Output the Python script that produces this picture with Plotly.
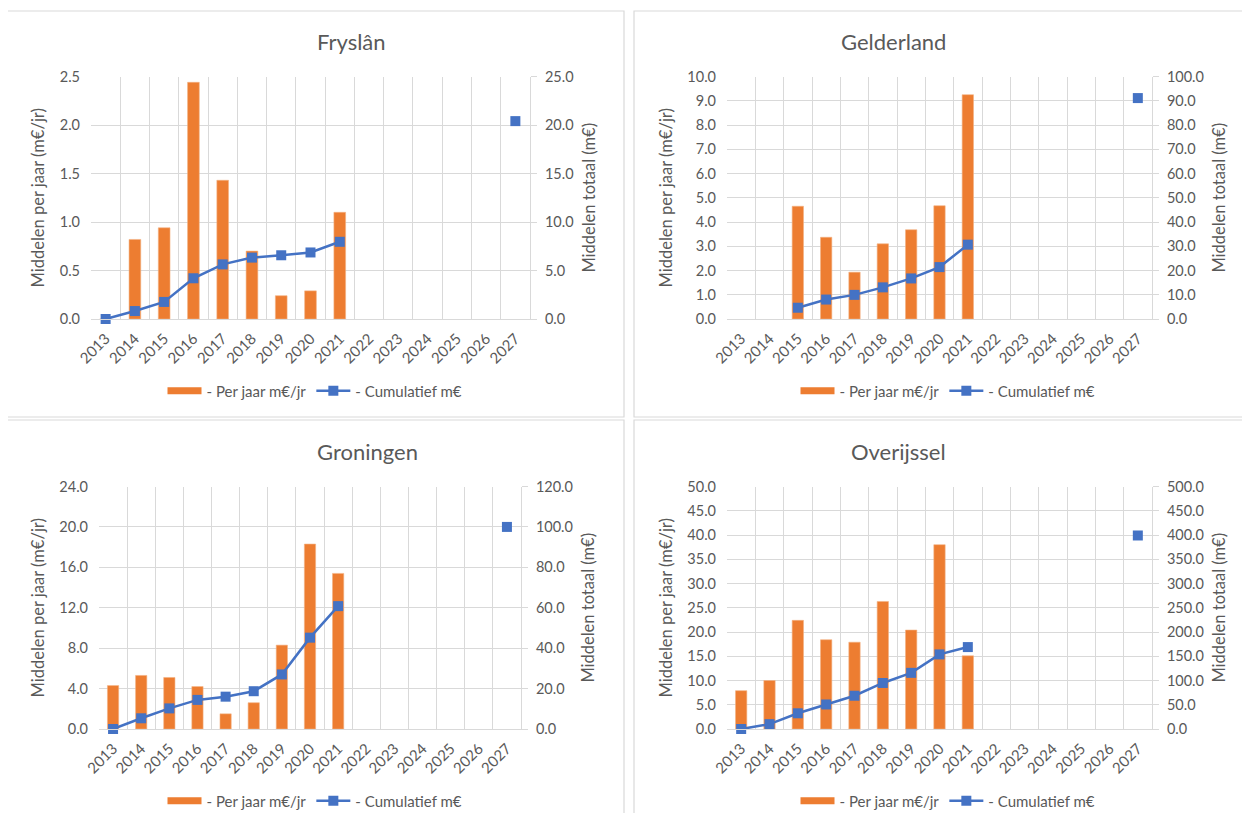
import plotly.graph_objects as go

YEARS = ["2013", "2014", "2015", "2016", "2017", "2018", "2019", "2020",
         "2021", "2022", "2023", "2024", "2025", "2026", "2027"]

fryslan_jaar = [0.0, 0.82, 0.94, 2.44, 1.43, 0.70, 0.24, 0.29, 1.10,
                None, None, None, None, None, None]
fryslan_cum = [0.0, 0.82, 1.76, 4.20, 5.63, 6.33, 6.57, 6.86, 7.96,
               None, None, None, None, None, 20.4]

gelderland_jaar = [None, None, 4.65, 3.37, 1.93, 3.10, 3.68, 4.67, 9.25,
                   None, None, None, None, None, None]
gelderland_cum = [None, None, 4.65, 8.02, 9.95, 13.05, 16.73, 21.40, 30.65,
                  None, None, None, None, None, 91.1]

groningen_jaar = [4.3, 5.3, 5.1, 4.2, 1.5, 2.6, 8.3, 18.3, 15.4,
                  None, None, None, None, None, None]
groningen_cum = [0.0, 5.3, 10.2, 14.4, 16.0, 18.7, 27.0, 45.2, 60.8,
                 None, None, None, None, None, 100.0]

overijssel_jaar = [7.9, 10.0, 22.4, 18.4, 17.9, 26.3, 20.4, 38.0, 15.1,
                   None, None, None, None, None, None]
overijssel_cum = [0.0, 10.0, 32.4, 50.6, 68.6, 94.9, 115.8, 153.8, 168.9,
                  None, None, None, None, None, 399.0]

ORANGE = "#ED7D31"
BLUE = "#4472C4"
GRID = "#D9D9D9"
TEXT = "#595959"
FONT = "Lato"

# the page body keeps its default 8px margin, so the figure is drawn
# 16px smaller and positions below are page pixels shifted by that margin
PAD = 8
W, H = 1250 - 2 * PAD, 821 - 2 * PAD


def px_x(v):
    return (v - PAD) / W


def px_y(v):
    return 1 - (v - PAD) / H


def add_panel(fig, i, title, jaar, cum, ymax, ystep, y2max, y2step,
              plot_box, panel_box):
    # plot_box / panel_box in page pixel coords: (left, top, right, bottom)
    xa = "x" if i == 0 else f"x{i + 1}"
    ya = "y" if i == 0 else f"y{2 * i + 1}"
    ya2 = f"y{2 * i + 2}"
    leg = "legend" if i == 0 else f"legend{i + 1}"

    fig.add_trace(go.Bar(x=YEARS, y=jaar, marker_color=ORANGE,
                         marker_line=dict(color="#F4B183", width=0.6),
                         xaxis=xa, yaxis=ya, showlegend=False,
                         name="- Per jaar m€/jr"))
    # legend stand-in so the bar swatch is a wide flat rectangle like Excel
    fig.add_trace(go.Scatter(x=[None], y=[None], mode="lines",
                             line=dict(color=ORANGE, width=7),
                             xaxis=xa, yaxis=ya, legend=leg,
                             name="- Per jaar m€/jr"))
    fig.add_trace(go.Scatter(x=YEARS, y=cum, mode="lines+markers",
                             line=dict(color=BLUE, width=2.5),
                             marker=dict(symbol="square", size=10, color=BLUE),
                             connectgaps=False, xaxis=xa, yaxis=ya2,
                             legend=leg, name="- Cumulatief m€",
                             cliponaxis=False))

    l, t, r, b = plot_box
    pl, pt, pr, pb = panel_box
    tick_font = dict(family=FONT, size=14.5, color=TEXT)
    title_font = dict(family=FONT, size=16.5, color=TEXT)

    fig.update_layout(**{
        ("xaxis" if i == 0 else f"xaxis{i + 1}"): dict(
            domain=[px_x(l), px_x(r)], anchor=ya, type="category",
            categoryorder="array", categoryarray=YEARS,
            range=[-0.5, len(YEARS) - 0.5], autorange=False,
            tickson="boundaries", ticks="", showgrid=True, gridcolor=GRID,
            showline=True, linecolor=GRID, tickangle=-45,
            tickfont=dict(family=FONT, size=15, color=TEXT),
            ticklabelstandoff=4, automargin=False,
        ),
        ("yaxis" if i == 0 else f"yaxis{2 * i + 1}"): dict(
            domain=[px_y(b), px_y(t)], anchor=xa, range=[0, ymax],
            dtick=ystep, tick0=0, tickformat=".1f", showgrid=True,
            gridcolor=GRID, zeroline=False, showline=False, ticks="",
            tickfont=tick_font, ticklabelstandoff=10, automargin=False,
            title=dict(text="Middelen per jaar (m€/jr)", font=title_font,
                       standoff=10),
        ),
        f"yaxis{2 * i + 2}": dict(
            overlaying=ya, side="right", anchor=xa, range=[0, y2max],
            dtick=y2step, tick0=0, tickformat=".1f", showgrid=False,
            zeroline=False, showline=True, linecolor=GRID, ticks="outside",
            ticklen=6, tickcolor=GRID, tickfont=tick_font,
            ticklabelstandoff=5, automargin=False,
            title=dict(text="Middelen totaal (m€)", font=title_font,
                       standoff=10),
        ),
        leg: dict(orientation="h", x=px_x((pl + pr) / 2), xanchor="center",
                  y=px_y(b + 72), yanchor="middle", bgcolor="rgba(0,0,0,0)",
                  font=dict(family=FONT, size=15, color=TEXT),
                  itemwidth=34, traceorder="normal"),
    })

    fig.add_shape(type="rect", xref="paper", yref="paper",
                  x0=px_x(pl), x1=px_x(pr), y0=px_y(pb), y1=px_y(pt),
                  line=dict(color=GRID, width=1.2), layer="below")
    fig.add_annotation(text=title, xref="paper", yref="paper",
                       x=px_x((pl + pr) / 2), y=px_y(pt + 31),
                       showarrow=False, yanchor="middle",
                       font=dict(family=FONT, size=22, color=TEXT))


fig = go.Figure()

add_panel(fig, 0, "Fryslân", fryslan_jaar, fryslan_cum, 2.5, 0.5, 25, 5,
          (91, 76.5, 530, 319), (6, 11, 624, 417))
add_panel(fig, 1, "Gelderland", gelderland_jaar, gelderland_cum, 10, 1, 100, 10,
          (727, 76.5, 1152, 319), (634, 11, 1262, 417))
add_panel(fig, 2, "Groningen", groningen_jaar, groningen_cum, 24, 4, 120, 20,
          (99, 486.5, 521, 729), (6, 420, 624, 833))
add_panel(fig, 3, "Overijssel", overijssel_jaar, overijssel_cum, 50, 5, 500, 50,
          (727, 486.5, 1152, 729), (634, 420, 1262, 833))

fig.update_layout(
    width=W, height=H,
    margin=dict(l=0, r=0, t=0, b=0, autoexpand=False),
    paper_bgcolor="white", plot_bgcolor="white",
    barmode="group", bargap=0.6,
    font=dict(family=FONT, color=TEXT),
)

fig.write_html("out.html")
